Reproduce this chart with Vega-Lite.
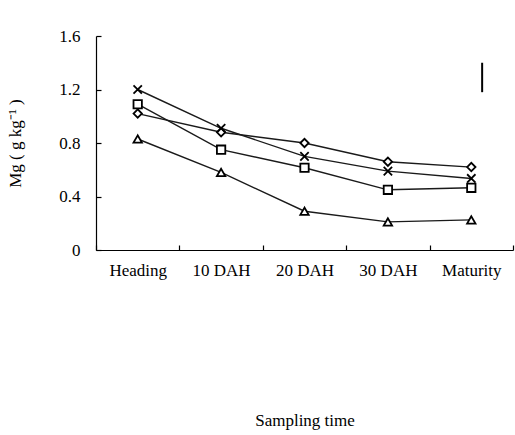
{
  "$schema": "https://vega.github.io/schema/vega-lite/v6.json",
  "width": 417,
  "height": 214,
  "autosize": {"type": "none"},
  "padding": {"left": 96, "top": 36, "right": 2, "bottom": 185},
  "background": "white",
  "config": {
    "view": {"stroke": null},
    "font": "Liberation Serif",
    "axis": {"grid": false, "domainColor": "black", "tickColor": "black", "labelColor": "black", "titleColor": "black", "labelFont": "Liberation Serif", "titleFont": "Liberation Serif", "labelFontSize": 17, "titleFontSize": 17, "titleFontWeight": "normal", "domainWidth": 1.2, "tickWidth": 1.2}
  },
  "datasets": {
    "pts": [
      {"stage": "Heading", "series": "A", "mg": 1.02},
      {"stage": "10 DAH", "series": "A", "mg": 0.88},
      {"stage": "20 DAH", "series": "A", "mg": 0.80},
      {"stage": "30 DAH", "series": "A", "mg": 0.66},
      {"stage": "Maturity", "series": "A", "mg": 0.62},
      {"stage": "Heading", "series": "B", "mg": 1.20},
      {"stage": "10 DAH", "series": "B", "mg": 0.91},
      {"stage": "20 DAH", "series": "B", "mg": 0.70},
      {"stage": "30 DAH", "series": "B", "mg": 0.59},
      {"stage": "Maturity", "series": "B", "mg": 0.535},
      {"stage": "Heading", "series": "C", "mg": 1.09},
      {"stage": "10 DAH", "series": "C", "mg": 0.75},
      {"stage": "20 DAH", "series": "C", "mg": 0.615},
      {"stage": "30 DAH", "series": "C", "mg": 0.45},
      {"stage": "Maturity", "series": "C", "mg": 0.465},
      {"stage": "Heading", "series": "D", "mg": 0.83},
      {"stage": "10 DAH", "series": "D", "mg": 0.58},
      {"stage": "20 DAH", "series": "D", "mg": 0.29},
      {"stage": "30 DAH", "series": "D", "mg": 0.21},
      {"stage": "Maturity", "series": "D", "mg": 0.225}
    ],
    "lsd": [{"stage": "Maturity", "lo": 1.18, "hi": 1.40}]
  },
  "layer": [
    {
      "data": {"name": "pts"},
      "mark": {"type": "line", "color": "#1a1a1a", "strokeWidth": 1.4},
      "encoding": {
        "x": {"field": "stage", "type": "nominal", "sort": null, "scale": {"domain": ["Heading", "10 DAH", "20 DAH", "30 DAH", "Maturity"], "paddingInner": 0, "paddingOuter": 0},
          "axis": {"labelAngle": 0, "tickBand": "extent", "tickSize": -5, "labelPadding": 17, "title": "Sampling time", "titlePadding": 134}},
        "y": {"field": "mg", "type": "quantitative", "scale": {"domain": [0, 1.6], "nice": false},
          "axis": {"values": [0, 0.4, 0.8, 1.2, 1.6], "format": ".1~f", "tickSize": -5, "labelPadding": 21, "title": "Mg\u00a0(\u00a0g\u00a0kg⁻¹\u00a0)", "titlePadding": 34}},
        "detail": {"field": "series"}
      }
    },
    {
      "data": {"name": "pts"},
      "mark": {"type": "point", "filled": true, "fill": "white", "stroke": "black", "strokeWidth": 1.8, "size": 70, "opacity": 1},
      "encoding": {
        "x": {"field": "stage", "type": "nominal", "sort": null},
        "y": {"field": "mg", "type": "quantitative"},
        "shape": {"field": "series", "type": "nominal", "legend": null,
          "scale": {"domain": ["A", "B", "C", "D"], "range": ["diamond", "M-1,-1L1,1M-1,1L1,-1", "square", "triangle-up"]}}
      }
    },
    {
      "data": {"name": "lsd"},
      "mark": {"type": "rule", "color": "black", "strokeWidth": 2},
      "encoding": {
        "x": {"field": "stage", "type": "nominal", "sort": null, "bandPosition": 0.63},
        "y": {"field": "lo", "type": "quantitative"},
        "y2": {"field": "hi"}
      }
    }
  ]
}
